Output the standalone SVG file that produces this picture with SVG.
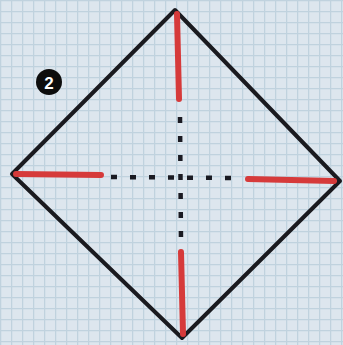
<svg xmlns="http://www.w3.org/2000/svg" width="343" height="345" viewBox="0 0 343 345">
<defs>
<pattern id="grid" width="11" height="11" patternUnits="userSpaceOnUse">
<rect width="11" height="11" fill="#dde6ee"/>
<path d="M0 0.5H11M0.5 0V11" stroke="#c0d2de" stroke-width="1.5" fill="none"/>
</pattern>
<style>
.edge{stroke:#1a1a1f;stroke-width:4;fill:none;stroke-linejoin:round;stroke-linecap:round}
.red{stroke:#d63a3a;stroke-width:6;stroke-linecap:round;fill:none}
.dot{stroke:#1a1a22;stroke-width:4.5;stroke-dasharray:6 13;fill:none}
</style>
</defs>
<rect width="343" height="345" fill="url(#grid)"/>
<g id="diamond">
<polygon class="edge" points="175,10 340,181 182,338 12,174"/>
</g>
<g id="red-lines">
<line class="red" x1="177" y1="14" x2="179" y2="99"/>
<line class="red" x1="181" y1="252" x2="183" y2="334"/>
<line class="red" x1="16" y1="174" x2="101" y2="175"/>
<line class="red" x1="248" y1="179" x2="334" y2="181"/>
</g>
<g id="fold-lines">
<line class="dot" x1="180" y1="117" x2="181" y2="242"/>
<line class="dot" x1="111" y1="177" x2="232" y2="178"/>
</g>
<g id="step">
<circle cx="49" cy="82" r="13" fill="#0d0d0d"/>
<text x="49" y="88.5" text-anchor="middle" font-family="Liberation Sans, Arial, sans-serif" font-weight="bold" font-size="17" fill="#ffffff">2</text>
</g>
</svg>
